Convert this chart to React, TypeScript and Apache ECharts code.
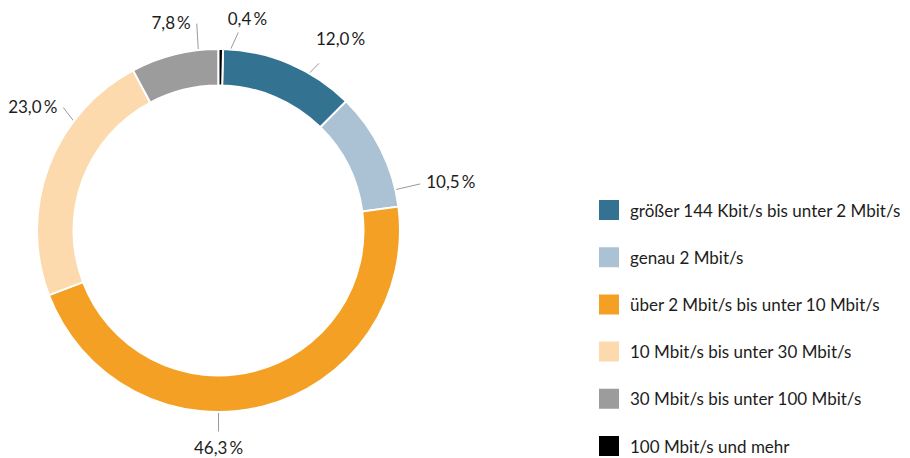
import React, { useEffect, useRef } from "react";
import * as echarts from "echarts";

const categories = [
  "größer 144 Kbit/s bis unter 2 Mbit/s",
  "genau 2 Mbit/s",
  "über 2 Mbit/s bis unter 10 Mbit/s",
  "10 Mbit/s bis unter 30 Mbit/s",
  "30 Mbit/s bis unter 100 Mbit/s",
  "100 Mbit/s und mehr",
];
const shares = [12.0, 10.5, 46.3, 23.0, 7.8, 0.4];
const colors = ["#337391", "#abc2d5", "#f4a024", "#fcdaad", "#9c9c9c", "#000000"];

const CX = 218.5;
const CY = 230.5;
const FONT = "Lato";
const TEXT = "#1d1d1b";

// label guide layout (angles in degrees, radii in px)
const guides = [
  { a0: 61.5, r0: 165, a1: 59, r1: 195, dx: -3, dy: -25, align: "left" },
  { a0: 13, r0: 166, a1: 13, r1: 207, dx: 6, dy: -2, align: "left" },
  { a0: -90, r0: 161, a1: -90, r1: 201, dx: 0, dy: 16, align: "center" },
  { a0: 145, r0: 161, a1: 141.6, r1: 198, dx: -6, dy: -1, align: "right" },
  { a0: 96.4, r0: 181, a1: 96, r1: 208, dx: -6, dy: -1.5, align: "right" },
  { a0: 88.5, r0: 164, a1: 84.3, r1: 199, dx: -10.5, dy: -14, align: "left" },
];

const pt = (a: number, r: number): number[] => {
  const rad = (a * Math.PI) / 180;
  return [CX + r * Math.cos(rad), CY - r * Math.sin(rad)];
};

const fmt = (v: number) => v.toFixed(1).replace(".", ",") + "\u2009%";

export default function App() {
  const ref = useRef<HTMLDivElement>(null);
  useEffect(() => {
    if (!ref.current) return;
    const chart = echarts.init(ref.current, undefined, { renderer: "svg" });
    const total = shares.reduce((a, b) => a + b, 0);
    const startAngle = 90 - (shares[shares.length - 1] / total) * 360;
    chart.setOption({
      animation: false,
      color: colors,
      legend: {
        orient: "vertical",
        left: 597,
        top: 198,
        padding: 0,
        height: 320,
        itemWidth: 22,
        itemHeight: 22,
        itemGap: 23.2,
        icon: "rect",
        selectedMode: false,
        data: categories,
        textStyle: {
          fontFamily: FONT,
          fontSize: 17,
          color: TEXT,
          padding: [0, 0, 0, 5],
        },
      },
      series: [
        {
          type: "pie",
          center: [CX, CY],
          radius: [145, 181.5],
          startAngle,
          clockwise: true,
          avoidLabelOverlap: false,
          itemStyle: { borderColor: "#ffffff", borderWidth: 2 },
          emphasis: { disabled: true },
          label: {
            show: true,
            position: "outside",
            fontFamily: FONT,
            fontSize: 17,
            color: TEXT,
            formatter: (p: any) => fmt(p.value),
          },
          labelLine: {
            show: true,
            lineStyle: { color: "#9a9a9a", width: 1 },
          },
          labelLayout: (params: any) => {
            const g = guides[params.dataIndex];
            const s = pt(g.a0, g.r0);
            const e = pt(g.a1, g.r1);
            const m = [(s[0] + e[0]) / 2, (s[1] + e[1]) / 2];
            return {
              x: e[0] + g.dx,
              y: e[1] + g.dy,
              align: g.align,
              verticalAlign: "middle",
              labelLinePoints: [s, m, e],
            };
          },
          data: categories.map((name, i) => ({ name, value: shares[i] })),
        },
      ],
    });
    return () => chart.dispose();
  }, []);
  return (
    <div
      ref={ref}
      style={{ position: "absolute", left: 0, top: 0, width: 910, height: 458 }}
    />
  );
}
